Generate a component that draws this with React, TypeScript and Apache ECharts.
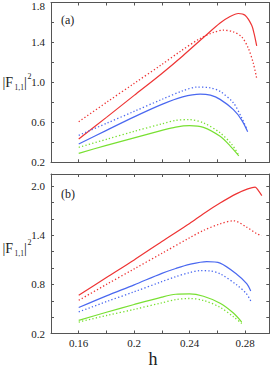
import React, { useEffect, useRef } from "react";
import * as echarts from "echarts";

// Panel (a) curves: [h, |F11|^2]
const redSolidA = [[0.16,0.433],[0.18,0.65],[0.20,0.87],[0.22,1.09],[0.235,1.265],[0.2512,1.465],[0.262,1.595],[0.2692,1.66],[0.2752,1.69],[0.28,1.673],[0.2848,1.573],[0.2865,1.49],[0.2884,1.366]];
const redDotA = [[0.16,0.606],[0.18,0.80],[0.20,0.99],[0.22,1.18],[0.2332,1.31],[0.2476,1.44],[0.2572,1.50],[0.2644,1.523],[0.2716,1.506],[0.2776,1.456],[0.2824,1.34],[0.286,1.19],[0.2884,1.04]];
const blueSolidA = [[0.16,0.383],[0.18,0.52],[0.20,0.655],[0.22,0.78],[0.235,0.855],[0.2476,0.883],[0.255,0.872],[0.262,0.83],[0.2716,0.727],[0.2776,0.623],[0.2819,0.506]];
const blueDotA = [[0.16,0.47],[0.18,0.59],[0.20,0.71],[0.22,0.83],[0.235,0.915],[0.2452,0.953],[0.255,0.945],[0.262,0.91],[0.2716,0.795],[0.2776,0.645],[0.281,0.54]];
const greenSolidA = [[0.16,0.29],[0.18,0.37],[0.20,0.445],[0.22,0.52],[0.23,0.553],[0.24,0.567],[0.25,0.55],[0.262,0.46],[0.2692,0.365],[0.2755,0.265]];
const greenDotA = [[0.16,0.35],[0.18,0.43],[0.20,0.51],[0.22,0.585],[0.23,0.62],[0.24,0.627],[0.25,0.595],[0.262,0.495],[0.2704,0.38],[0.2755,0.27]];

// Panel (b) curves
const redSolidB = [[0.16,0.667],[0.18,0.885],[0.20,1.10],[0.22,1.325],[0.24,1.545],[0.25,1.665],[0.262,1.795],[0.274,1.91],[0.282,1.968],[0.2873,1.99],[0.2895,1.95],[0.2921,1.886]];
const redDotB = [[0.16,0.606],[0.18,0.80],[0.20,0.99],[0.22,1.18],[0.24,1.37],[0.25,1.46],[0.262,1.54],[0.2716,1.578],[0.2812,1.50],[0.2884,1.42],[0.2921,1.40]];
const blueSolidB = [[0.16,0.517],[0.18,0.66],[0.20,0.795],[0.22,0.935],[0.23,0.995],[0.24,1.045],[0.2524,1.078],[0.262,1.06],[0.274,0.925],[0.2812,0.81],[0.2841,0.72]];
const blueDotB = [[0.16,0.464],[0.18,0.59],[0.20,0.71],[0.22,0.835],[0.23,0.895],[0.24,0.945],[0.2476,0.968],[0.255,0.965],[0.262,0.93],[0.274,0.795],[0.2808,0.69],[0.2841,0.598]];
const greenSolidB = [[0.16,0.36],[0.18,0.46],[0.20,0.555],[0.22,0.645],[0.23,0.68],[0.24,0.685],[0.25,0.655],[0.262,0.57],[0.2716,0.45],[0.2776,0.34]];
const greenDotB = [[0.16,0.34],[0.18,0.42],[0.20,0.495],[0.22,0.575],[0.23,0.615],[0.24,0.628],[0.25,0.605],[0.262,0.52],[0.2716,0.405],[0.2776,0.322]];

const xTickLabels = [0.16, 0.2, 0.24, 0.28];
const yTickLabelsA = [0.2, 0.6, 1.0, 1.4, 1.8];
const yTickLabelsB = [0.2, 0.8, 1.4, 2.0];

const RED = "#ee3434";
const BLUE = "#4a68f0";
const GREEN = "#78e032";
const FRAME = "#555555";
const FONT = "Liberation Serif";

const inList = (v: number, list: number[]) => list.some((t) => Math.abs(t - v) < 1e-6);

export default function App() {
  const ref = useRef<HTMLDivElement>(null);
  useEffect(() => {
    if (!ref.current) return;
    const chart = echarts.init(ref.current, undefined, { renderer: "svg" });
    const grids = [
      { left: 51, top: 2.5, width: 218.3, height: 159.8 },
      { left: 51, top: 174, width: 218.3, height: 159.5 },
    ];
    const tick = { show: true, inside: true, length: 3, lineStyle: { color: FRAME, width: 1 } };
    const line = { show: true, lineStyle: { color: FRAME, width: 1 } };
    const xAxes: any[] = [];
    const yAxes: any[] = [];
    [0, 1].forEach((g) => {
      const showXLabels = g === 1;
      xAxes.push({
        type: "value", gridIndex: g, position: "bottom", min: 0.14, max: 0.2975, interval: 0.02,
        axisLine: line, axisTick: tick, splitLine: { show: false },
        axisLabel: {
          show: showXLabels, margin: 4, color: "#222", fontFamily: FONT, fontSize: 11,
          showMinLabel: true, showMaxLabel: false,
          formatter: (v: number) => (inList(v, xTickLabels) ? String(parseFloat(v.toFixed(2))) : ""),
        },
      });
      xAxes.push({
        type: "value", gridIndex: g, position: "top", min: 0.14, max: 0.2975, interval: 0.02,
        axisLine: line, axisTick: tick, splitLine: { show: false }, axisLabel: { show: false },
      });
      const labels = g === 0 ? yTickLabelsA : yTickLabelsB;
      const top = g === 0 ? 1.8 : 2.0;
      yAxes.push({
        type: "value", gridIndex: g, position: "left", min: 0.2, max: g === 0 ? 1.8 : 2.15, interval: 0.2,
        axisLine: line, axisTick: tick, splitLine: { show: false },
        axisLabel: {
          show: true, margin: 6, color: "#222", fontFamily: FONT, fontSize: 11,
          showMinLabel: true, showMaxLabel: true,
          formatter: (v: number) => {
            if (!inList(v, labels)) return "";
            const s = v.toFixed(1);
            if (g === 0 && Math.abs(v - top) < 1e-6) return "{t|" + s + "}";
            return s;
          },
          rich: { t: { fontFamily: FONT, fontSize: 11, color: "#222", padding: [7, 0, 0, 0] } },
        },
      });
      yAxes.push({
        type: "value", gridIndex: g, position: "right", min: 0.2, max: g === 0 ? 1.8 : 2.15, interval: 0.2,
        axisLine: line, axisTick: tick, splitLine: { show: false }, axisLabel: { show: false },
      });
    });

    const mk = (data: number[][], color: string, dotted: boolean, g: number) => ({
      type: "line",
      xAxisIndex: g * 2,
      yAxisIndex: g * 2,
      data,
      showSymbol: false,
      smooth: 0.3,
      lineStyle: dotted
        ? { color, width: 1.3, type: [1.3, 2.2], cap: "butt" }
        : { color, width: 1.2, type: "solid" },
      silent: true,
    });

    const series = [
      mk(redSolidA, RED, false, 0), mk(redDotA, RED, true, 0),
      mk(blueSolidA, BLUE, false, 0), mk(blueDotA, BLUE, true, 0),
      mk(greenSolidA, GREEN, false, 0), mk(greenDotA, GREEN, true, 0),
      mk(redSolidB, RED, false, 1), mk(redDotB, RED, true, 1),
      mk(blueSolidB, BLUE, false, 1), mk(blueDotB, BLUE, true, 1),
      mk(greenSolidB, GREEN, false, 1), mk(greenDotB, GREEN, true, 1),
    ];

    const yLabel = (cy: number) => [
      { type: "text", x: 2.5, y: cy, style: { text: "|F", fontFamily: FONT, fontSize: 14, fill: "#222", verticalAlign: "middle" } },
      { type: "text", x: 14.5, y: cy + 5, style: { text: "1,1", fontFamily: FONT, fontSize: 7.5, fill: "#222", verticalAlign: "middle" } },
      { type: "text", x: 24, y: cy, style: { text: "|", fontFamily: FONT, fontSize: 14, fill: "#222", verticalAlign: "middle" } },
      { type: "text", x: 27.5, y: cy - 6, style: { text: "2", fontFamily: FONT, fontSize: 8, fill: "#222", verticalAlign: "middle" } },
    ];

    chart.setOption({
      animation: false,
      backgroundColor: "#ffffff",
      grid: grids,
      xAxis: xAxes,
      yAxis: yAxes,
      series,
      graphic: [
        ...yLabel(82),
        ...yLabel(248),
        { type: "text", x: 61, y: 20, style: { text: "(a)", fontFamily: FONT, fontSize: 12, fill: "#222", verticalAlign: "middle" } },
        { type: "text", x: 61, y: 193.5, style: { text: "(b)", fontFamily: FONT, fontSize: 12, fill: "#222", verticalAlign: "middle" } },
        { type: "text", x: 153, y: 359, style: { text: "h", fontFamily: FONT, fontSize: 18, fill: "#222", align: "center", verticalAlign: "middle" } },
      ],
    });
    return () => chart.dispose();
  }, []);
  return <div ref={ref} style={{ position: "fixed", left: 0, top: 0, width: 273, height: 372 }} />;
}
